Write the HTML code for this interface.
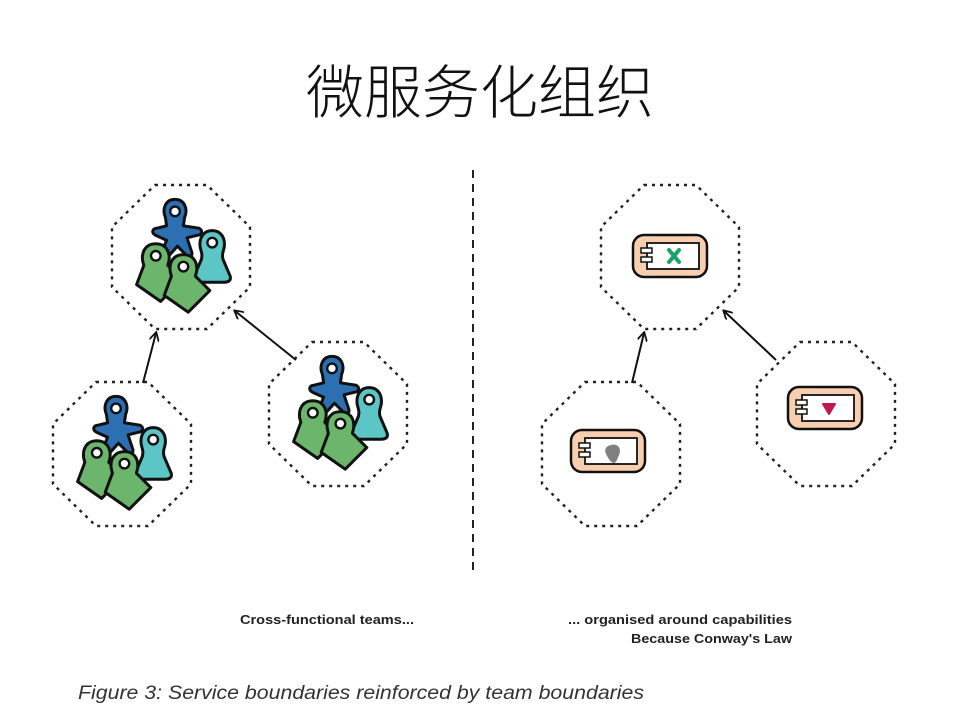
<!DOCTYPE html>
<html><head><meta charset="utf-8"><style>
html,body{margin:0;padding:0;background:#fff;width:960px;height:720px;overflow:hidden}
</style></head><body>
<svg width="960" height="720" viewBox="0 0 960 720" xmlns="http://www.w3.org/2000/svg">
<defs>
<g id="oct"><polygon points="-26,-72 26,-72 69,-30 69,30 26,72 -26,72 -69,30 -69,-30" fill="none" stroke="#222" stroke-width="2.4" stroke-dasharray="3,5"/></g>
<g id="green">
 <path d="M0,-12 C8,-12 12,-6 11,2 L10,6 L22,18 L4,36 L-16,22 L-10,6 L-11,2 C-12,-6 -8,-12 0,-12 Z" fill="#6cb56c" stroke="#111" stroke-width="2.5" stroke-linejoin="round"/>
 <circle cx="0" cy="-2" r="4" fill="#fff" stroke="#111" stroke-width="2"/>
</g>
<g id="cyan">
 <path d="M0,-12 C8,-12 11,-5 10,2 C9,6 8,8 9,12 L15,26 C16,30 13,31 10,31 L-10,31 C-13,31 -16,30 -15,26 L-9,12 C-8,8 -9,6 -10,2 C-11,-5 -8,-12 0,-12 Z" fill="#5cc6c6" stroke="#111" stroke-width="2.5" stroke-linejoin="round"/>
 <circle cx="0" cy="-2" r="4" fill="#fff" stroke="#111" stroke-width="2"/>
</g>
<g id="blue">
 <path d="M0,-12 C8,-12 11,-4 8,3 L7,10 L20,12 C24,14 22,18 18,18 L10,20 L14,32 C15,36 11,37 9,34 L2,27 L-6,36 C-9,38 -12,36 -11,32 L-7,22 L-16,18 C-20,16 -19,12 -15,12 L-7,10 L-8,3 C-11,-4 -8,-12 0,-12 Z" fill="#2c6fb3" stroke="#111" stroke-width="2.5" stroke-linejoin="round"/>
 <circle cx="0" cy="-2" r="4" fill="#fff" stroke="#111" stroke-width="2"/>
</g>
<g id="team0">
 <use href="#blue" x="-5" y="-36"/>
 <use href="#cyan" x="26" y="-10"/>
 <use href="#green" x="-21" y="1"/>
 <use href="#green" x="2" y="10"/>
</g>
<g id="team"><g transform="scale(1.2)"><use href="#team0"/></g></g>
<g id="comp">
 <rect x="-37" y="-21" width="74" height="42" rx="11" fill="#f7cfb0" stroke="#111" stroke-width="2.5"/>
 <rect x="-23" y="-13" width="52" height="26" fill="#fff" stroke="#111" stroke-width="1.8"/>
 <rect x="-29" y="-8" width="11" height="5" fill="#fff" stroke="#111" stroke-width="1.5"/>
 <rect x="-29" y="1" width="11" height="5" fill="#fff" stroke="#111" stroke-width="1.5"/>
</g>
<marker id="ah" markerWidth="10" markerHeight="10" refX="8" refY="5" orient="auto" markerUnits="userSpaceOnUse"><path d="M0,0 L9,5 L0,10" fill="none" stroke="#111" stroke-width="1.8"/></marker>
</defs>

<text x="480" y="113" text-anchor="middle" font-family="'Noto Sans CJK SC','WenQuanYi Zen Hei',sans-serif" font-weight="300" font-size="58" fill="#111">微服务化组织</text>

<line x1="473" y1="170" x2="473" y2="570" stroke="#222" stroke-width="2" stroke-dasharray="8,6"/>

<use href="#oct" x="181" y="257"/>
<use href="#oct" x="122" y="454"/>
<use href="#oct" x="338" y="414"/>
<use href="#team" x="181" y="257"/>
<use href="#team" x="122" y="454"/>
<use href="#team" x="338" y="414"/>
<line x1="143" y1="383" x2="156" y2="333" stroke="#111" stroke-width="2" marker-end="url(#ah)"/>
<line x1="296" y1="360" x2="235" y2="311" stroke="#111" stroke-width="2" marker-end="url(#ah)"/>

<use href="#oct" x="670" y="257"/>
<use href="#oct" x="611" y="454"/>
<use href="#oct" x="826" y="414"/>
<use href="#comp" x="670" y="256"/>
<use href="#comp" x="608" y="451"/>
<use href="#comp" x="825" y="408"/>
<path d="M669,250 L679,262 M679,250 L669,262" stroke="#1aa36a" stroke-width="4" stroke-linecap="round"/>
<path d="M611,445 C618,443 622,449 619,455 C617,459 617,462 614,463 C611,463 608,458 606,454 C604,449 606,446 611,445 Z" fill="#808080"/>
<path d="M823,404 L835,404 L829,414 Z" fill="#c2184d" stroke="#c2184d" stroke-width="2" stroke-linejoin="round"/>
<line x1="632" y1="383" x2="644" y2="333" stroke="#111" stroke-width="2" marker-end="url(#ah)"/>
<line x1="776" y1="360" x2="724" y2="311" stroke="#111" stroke-width="2" marker-end="url(#ah)"/>

<g font-family="'Liberation Sans',sans-serif" font-weight="bold" font-size="13" fill="#222">
 <text x="240" y="624" textLength="174" lengthAdjust="spacingAndGlyphs">Cross-functional teams...</text>
 <text x="568" y="624" textLength="224" lengthAdjust="spacingAndGlyphs">... organised around capabilities</text>
 <text x="631" y="643" textLength="161" lengthAdjust="spacingAndGlyphs">Because Conway's Law</text>
</g>
<text x="78" y="699" font-family="'Liberation Sans',sans-serif" font-style="italic" font-size="19" fill="#333" textLength="566" lengthAdjust="spacingAndGlyphs">Figure 3: Service boundaries reinforced by team boundaries</text>
</svg>
</body></html>
